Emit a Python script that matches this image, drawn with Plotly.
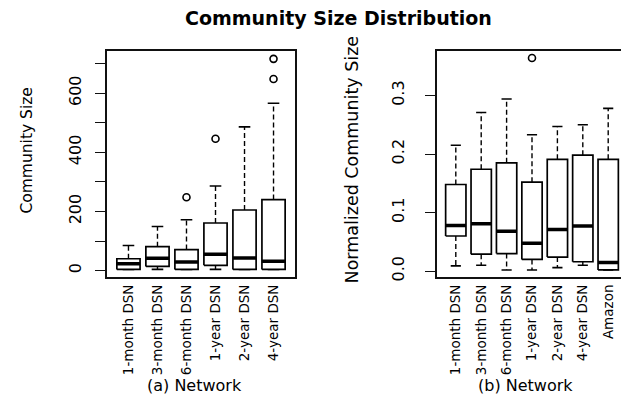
import plotly.graph_objects as go

# ---- data ----
cats_a = ["1-month DSN", "3-month DSN", "6-month DSN", "1-year DSN", "2-year DSN", "4-year DSN"]
low_a = [4, 4, 4, 4, 4, 4]
q1_a = [4, 14, 4, 18, 4, 4]
med_a = [23, 42, 29, 55, 43, 32]
q3_a = [40, 81, 71, 161, 205, 240]
up_a = [85, 149, 172, 286, 486, 566]
out_a_cat = ["6-month DSN", "1-year DSN", "4-year DSN", "4-year DSN"]
out_a_val = [248, 446, 648, 716]

cats_b = ["1-month DSN", "3-month DSN", "6-month DSN", "1-year DSN", "2-year DSN", "4-year DSN", "Amazon"]
low_b = [0.009, 0.010, 0.002, 0.002, 0.006, 0.010, 0.002]
q1_b = [0.060, 0.029, 0.030, 0.020, 0.024, 0.016, 0.002]
med_b = [0.078, 0.081, 0.068, 0.0475, 0.071, 0.077, 0.0146]
q3_b = [0.148, 0.174, 0.185, 0.152, 0.191, 0.198, 0.191]
up_b = [0.215, 0.271, 0.294, 0.233, 0.247, 0.250, 0.278]
out_b_cat = ["1-year DSN"]
out_b_val = [0.364]

ticks_a = [0, 100, 200, 300, 400, 500, 600, 700]
ticklabels_a = ["0", "", "200", "", "400", "", "600", ""]
ticks_b = [0.0, 0.1, 0.2, 0.3]
ticklabels_b = ["0.0", "0.1", "0.2", "0.3"]

FONT = "DejaVu Sans"
W, H = 629, 396

fig = go.Figure()


def add_panel(cats, low, q1, med, q3, up, ocat, oval, xa, ya):
    pos = list(range(1, len(cats) + 1))
    hw, cw = 0.4, 0.2
    wx, wy, cx, cy, bx, by, mx, my = [], [], [], [], [], [], [], []
    for p, lo, a, m, b, hi in zip(pos, low, q1, med, q3, up):
        wx += [p, p, None, p, p, None]
        wy += [b, hi, None, a, lo, None]
        cx += [p - cw, p + cw, None, p - cw, p + cw, None]
        cy += [hi, hi, None, lo, lo, None]
        bx += [p - hw, p + hw, p + hw, p - hw, p - hw, None]
        by += [a, a, b, b, a, None]
        mx += [p - hw, p + hw, None]
        my += [m, m, None]
    common = dict(xaxis=xa, yaxis=ya, hoverinfo="skip", showlegend=False)
    fig.add_trace(go.Scatter(x=wx, y=wy, mode="lines",
                             line=dict(color="black", width=1.4, dash="5px,3px"), **common))
    fig.add_trace(go.Scatter(x=cx, y=cy, mode="lines",
                             line=dict(color="black", width=1.6), **common))
    fig.add_trace(go.Scatter(x=bx, y=by, mode="lines", fill="toself", fillcolor="white",
                             line=dict(color="black", width=1.7), **common))
    fig.add_trace(go.Scatter(x=mx, y=my, mode="lines",
                             line=dict(color="black", width=3.5), **common))
    ox = [cats.index(c) + 1 for c in ocat]
    fig.add_trace(go.Scatter(x=ox, y=oval, mode="markers",
                             marker=dict(symbol="circle-open", size=7, color="black",
                                         line=dict(width=1.6, color="black")), **common))
    return pos


pos_a = add_panel(cats_a, low_a, q1_a, med_a, q3_a, up_a, out_a_cat, out_a_val, "x", "y")
pos_b = add_panel(cats_b, low_b, q1_b, med_b, q3_b, up_b, out_b_cat, out_b_val, "x2", "y2")

ydom = [1 - 272 / H, 1 - 43 / H]
xax = dict(showgrid=False, zeroline=False, showline=True, mirror=True, linecolor="#111",
           linewidth=1.8, ticks="", tickangle=-90, tickfont=dict(family=FONT, size=13.5, color="black"),
           ticklabelstandoff=0)
yax = dict(showgrid=False, zeroline=False, showline=True, mirror=True, linecolor="#111",
           linewidth=1.8, ticks="outside", ticklen=10, tickwidth=1.3, tickcolor="#111",
           tickangle=-90, tickfont=dict(family=FONT, size=16, color="black"))

fig.update_layout(
    width=W, height=H, margin=dict(l=0, r=0, t=0, b=0),
    paper_bgcolor="white", plot_bgcolor="white", showlegend=False,
    font=dict(family=FONT, color="black"),
    xaxis=dict(xax, domain=[99 / W, 287 / W], range=[0.26, len(cats_a) + 0.74],
               tickvals=pos_a, ticktext=cats_a, anchor="y"),
    yaxis=dict(yax, domain=ydom, range=[-22.5, 744], tickvals=ticks_a, ticktext=ticklabels_a,
               anchor="x", ticklabelstandoff=8),
    xaxis2=dict(xax, domain=[429 / W, 619 / W], range=[0.26, len(cats_b) + 0.74],
                tickvals=pos_b, ticktext=cats_b, anchor="y2"),
    yaxis2=dict(yax, domain=ydom, range=[-0.0105, 0.3768], tickvals=ticks_b, ticktext=ticklabels_b,
                anchor="x2", ticklabelstandoff=15),
)

ann = [
    dict(text="<b>Community Size Distribution</b>", x=330 / W, y=1 - 10 / H,
         font=dict(family=FONT, size=19, color="black")),
    dict(text="Community Size", x=19 / W, y=1 - 144 / H, textangle=-90,
         font=dict(family=FONT, size=15.5, color="black")),
    dict(text="Normalized Community Size", x=344 / W, y=1 - 153 / H, textangle=-90,
         font=dict(family=FONT, size=17.5, color="black")),
    dict(text="(a) Network", x=186 / W, y=1 - 381 / H,
         font=dict(family=FONT, size=16, color="black")),
    dict(text="(b) Network", x=517 / W, y=1 - 381 / H,
         font=dict(family=FONT, size=16, color="black")),
]
for a in ann:
    fig.add_annotation(xref="paper", yref="paper", xanchor="center", yanchor="middle",
                       showarrow=False, **a)

fig.write_html("out.html")
